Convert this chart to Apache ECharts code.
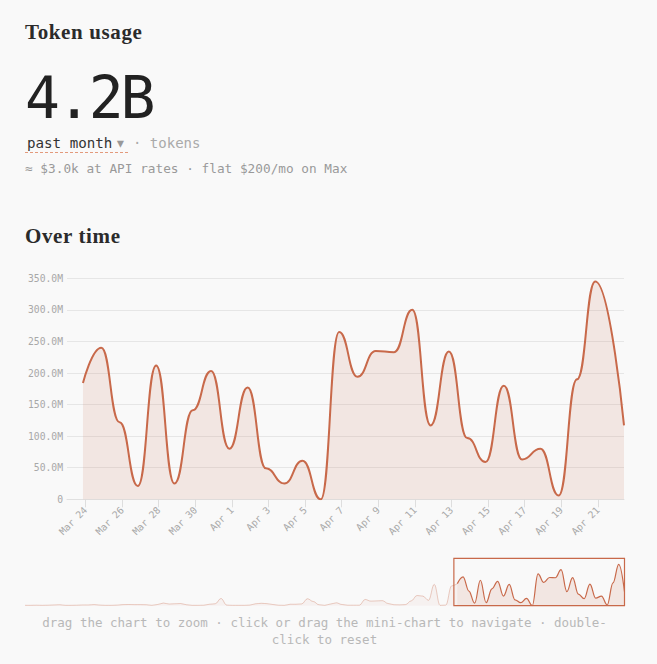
<!DOCTYPE html>
<html>
<head>
<meta charset="utf-8">
<script src="https://cdn.jsdelivr.net/npm/echarts@6/dist/echarts.min.js"></script>
<style>
html,body{margin:0;padding:0;background:#f9f9f9;width:657px;height:664px;overflow:hidden}
#chart{position:absolute;left:0;top:0;width:657px;height:664px}
.t{position:absolute;white-space:pre;z-index:2;line-height:1}
.serif{font-family:"Liberation Serif",serif;font-weight:700;font-size:21px;color:#2b2b2b;letter-spacing:.62px}
.mono{font-family:"DejaVu Sans Mono",monospace}
</style>
</head>
<body>
<div id="chart"></div>
<div class="t serif" style="left:25px;top:22px">Token usage</div>
<div class="t mono" style="left:25px;top:69px;font-size:58px;letter-spacing:-3.1px;color:#222">4.2B</div>
<div class="t mono" style="left:27px;top:136px;font-size:14.2px;color:#333">past month</div>
<div class="t mono" style="left:115px;top:134px;font-size:18px;color:#999">▾</div>
<div style="position:absolute;left:25px;top:152px;width:103px;border-top:1px dashed #e39a7c;z-index:2"></div>
<div class="t mono" style="left:133px;top:136px;font-size:14px;color:#aaa">· tokens</div>
<div class="t mono" style="left:25px;top:163px;font-size:12.75px;color:#999">≈ $3.0k at API rates · flat $200/mo on Max</div>
<div class="t serif" style="left:25px;top:226px">Over time</div>
<div class="t mono" style="left:0;width:649px;text-align:center;top:617px;font-size:12.5px;color:#b8b8b8">drag the chart to zoom · click or drag the mini-chart to navigate · double-</div>
<div class="t mono" style="left:0;width:649px;text-align:center;top:634px;font-size:12.5px;color:#b8b8b8">click to reset</div>
<script>
// Daily samples in the zoomed window (timestamps, UTC)
const dates = ['2025-03-23T20:40Z','2025-03-24T20:40Z','2025-03-25T20:40Z','2025-03-26T20:40Z','2025-03-27T20:40Z','2025-03-28T20:40Z','2025-03-29T20:40Z','2025-03-30T20:40Z','2025-03-31T20:40Z','2025-04-01T20:40Z','2025-04-02T20:40Z','2025-04-03T20:40Z','2025-04-04T20:40Z','2025-04-05T20:40Z','2025-04-06T20:40Z','2025-04-07T20:40Z','2025-04-08T20:40Z','2025-04-09T20:40Z','2025-04-10T20:40Z','2025-04-11T20:40Z','2025-04-12T20:40Z','2025-04-13T20:40Z','2025-04-14T20:40Z','2025-04-15T20:40Z','2025-04-16T20:40Z','2025-04-17T20:40Z','2025-04-18T20:40Z','2025-04-19T20:40Z','2025-04-20T20:40Z','2025-04-22T10:20Z'];
// Tokens per day, millions
const tokens = [184,240,122,21,212,25,141,203,80,177,49,25,61,0,265,194,235,233,300,117,234,97,59,180,63,80,6,190,345,117];
// Earlier history shown only in the mini-chart, millions
const history = [3,3,4,3,4,6,8,3,3,4,6,6,9,5,3,3,5,9,10,9,9,8,3,10,22,14,16,18,8,3,3,4,12,16,60,5,3,3,3,5,16,20,17,10,4,3,12,12,15,58,35,8,3,14,24,10,4,4,4,52,38,40,42,18,8,7,9,40,85,80,45,178,3,5,165];
// Axis ticks
const tickDates = ['2025-03-24','2025-03-26','2025-03-28','2025-03-30','2025-04-01','2025-04-03','2025-04-05','2025-04-07','2025-04-09','2025-04-11','2025-04-13','2025-04-15','2025-04-17','2025-04-19','2025-04-21'];
const yTicks = [0,50,100,150,200,250,300,350];
const xRange = ['2025-03-22T23:44Z','2025-04-22T10:20Z'];
const miniWindow = [74.4,104];

const ACCENT = '#c8694a', MONO = '"DejaVu Sans Mono",monospace', MONTHS = ['Jan','Feb','Mar','Apr','May','Jun','Jul','Aug','Sep','Oct','Nov','Dec'];
const ms = s => new Date(s).getTime();
const tickMs = tickDates.map(ms);
const mainData = dates.map((d,i) => [ms(d), tokens[i]]);
const histData = history.map((v,i) => [i, v]);
const selData = tokens.map((v,i) => [history.length + i, v]);
histData.push(selData[0]);

const chart = echarts.init(document.getElementById('chart'), null, {renderer:'svg', width:657, height:664});
chart.setOption({
  animation:false,
  backgroundColor:'#f9f9f9',
  grid:[
    {left:67, right:33, top:278.3, bottom:164.7},
    {left:25, right:32.5, top:558.3, bottom:58.3}
  ],
  xAxis:[
    {type:'value', gridIndex:0, min:ms(xRange[0]), max:ms(xRange[1]),
     axisLine:{lineStyle:{color:'#e0e0e0'}},
     axisTick:{show:true, length:8, lineStyle:{color:'#dedede'}, customValues:tickMs},
     splitLine:{show:false},
     axisLabel:{rotate:45, fontFamily:MONO, fontSize:9.7, color:'#a8a8a8', margin:9, hideOverlap:false, showMinLabel:true, showMaxLabel:true, customValues:tickMs,
       formatter:v => { const d = new Date(v); return MONTHS[d.getUTCMonth()] + ' ' + d.getUTCDate(); }}},
    {type:'value', gridIndex:1, min:0, max:104, show:false}
  ],
  yAxis:[
    {type:'value', gridIndex:0, min:0, max:350, interval:50,
     axisLine:{show:false}, axisTick:{show:false},
     splitLine:{lineStyle:{color:'#e6e6e6'}},
     axisLabel:{fontFamily:MONO, fontSize:9.7, color:'#a8a8a8', margin:4, customValues:yTicks,
       formatter:v => v === 0 ? '0' : v.toFixed(1) + 'M'}},
    {type:'value', gridIndex:1, min:0, max:395, show:false}
  ],
  series:[
    {type:'line', xAxisIndex:0, yAxisIndex:0, data:mainData, smooth:0.5, smoothMonotone:'x', showSymbol:false,
     lineStyle:{color:ACCENT, width:2}, areaStyle:{color:ACCENT, opacity:0.13}},
    {type:'line', xAxisIndex:1, yAxisIndex:1, data:histData, smooth:0.4, smoothMonotone:'x', showSymbol:false,
     lineStyle:{color:ACCENT, width:1, opacity:0.32}, areaStyle:{color:ACCENT, opacity:0.05}},
    {type:'line', xAxisIndex:1, yAxisIndex:1, data:selData, smooth:0.4, smoothMonotone:'x', showSymbol:false,
     lineStyle:{color:ACCENT, width:1.2}, areaStyle:{color:ACCENT, opacity:0.13},
     markArea:{silent:true, itemStyle:{color:'rgba(0,0,0,0)', borderColor:ACCENT, borderWidth:1.2},
       data:[[{xAxis:miniWindow[0], yAxis:0},{xAxis:miniWindow[1], yAxis:395}]]}}
  ]
});
</script>
</body>
</html>
